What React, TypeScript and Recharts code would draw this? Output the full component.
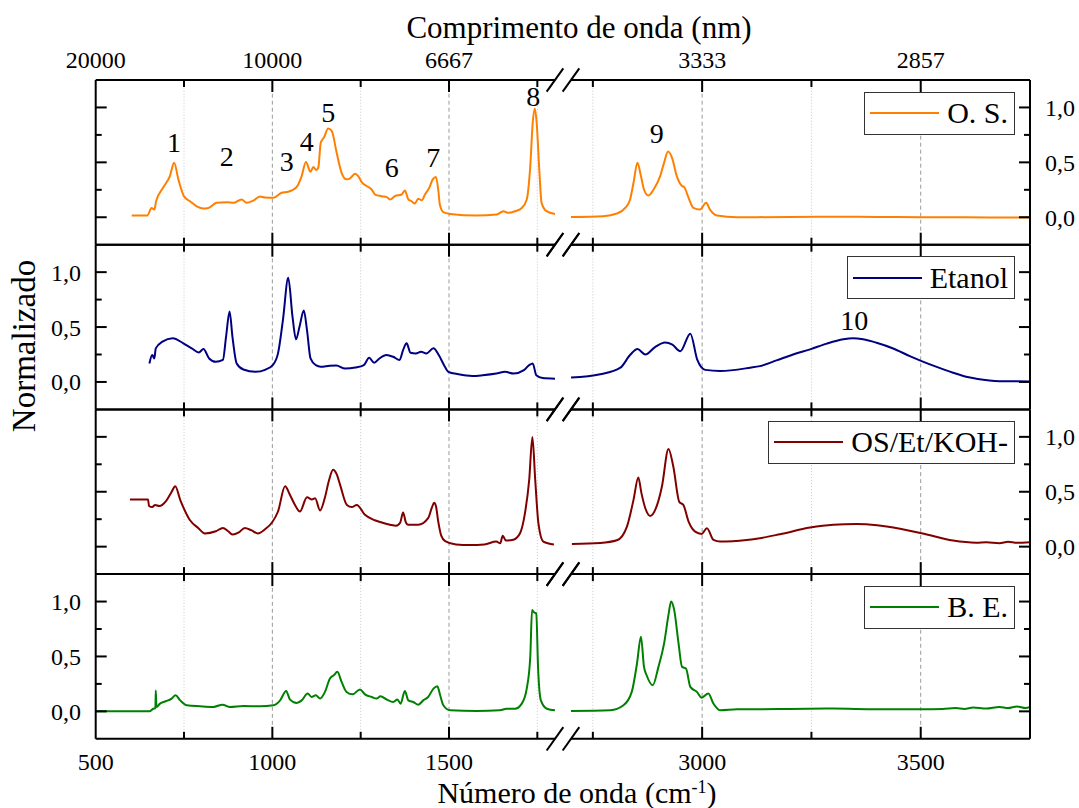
import React from 'react';
import { LineChart, Line, XAxis, YAxis, ReferenceLine, ReferenceDot, Legend } from 'recharts';

// ---------------- data (wavenumber cm-1 / normalized intensity) ----------------
const OS_LEFT_WN = [602, 646, 658, 666, 671, 691, 710, 722, 734, 750, 767, 786, 805, 819, 842, 871, 890, 913, 927, 946, 965, 979, 1003, 1026, 1045, 1069, 1083, 1095, 1108, 1116, 1124, 1130, 1137, 1146, 1158, 1168, 1182, 1196, 1210, 1220, 1234, 1243, 1253, 1267, 1281, 1291, 1309, 1324, 1333, 1347, 1366, 1375, 1385, 1394, 1403, 1413, 1423, 1432, 1444, 1454, 1463, 1470, 1474, 1484, 1503, 1578, 1635, 1654, 1668, 1687, 1706, 1720, 1730, 1737, 1743, 1748, 1756, 1762, 1776, 1800];
const OS_LEFT_VAL = [0.015, 0.015, 0.085, 0.07, 0.146, 0.27, 0.375, 0.497, 0.345, 0.19, 0.146, 0.1, 0.08, 0.085, 0.131, 0.137, 0.131, 0.162, 0.131, 0.152, 0.19, 0.18, 0.177, 0.223, 0.232, 0.277, 0.375, 0.503, 0.415, 0.457, 0.43, 0.451, 0.68, 0.726, 0.808, 0.787, 0.588, 0.405, 0.345, 0.354, 0.396, 0.375, 0.32, 0.284, 0.253, 0.207, 0.192, 0.183, 0.162, 0.192, 0.207, 0.244, 0.162, 0.146, 0.125, 0.168, 0.155, 0.207, 0.268, 0.345, 0.366, 0.238, 0.116, 0.046, 0.03, 0.015, 0.024, 0.055, 0.04, 0.055, 0.085, 0.162, 0.466, 0.863, 0.99, 0.863, 0.405, 0.131, 0.055, 0.03];
const OS_RIGHT_WN = [2700, 2774, 2805, 2824, 2835, 2843, 2852, 2860, 2867, 2877, 2889, 2904, 2913, 2922, 2931, 2942, 2954, 2959, 2969, 2980, 2995, 3009, 3018, 3034, 3079, 3200, 3300, 3400, 3500, 3600, 3700, 3750];
const OS_RIGHT_VAL = [0.003, 0.01, 0.034, 0.085, 0.16, 0.314, 0.497, 0.375, 0.253, 0.198, 0.253, 0.375, 0.497, 0.598, 0.543, 0.375, 0.284, 0.274, 0.177, 0.085, 0.07, 0.131, 0.07, 0.015, 0.0, 0.003, 0.005, 0.003, 0.0, 0.0, -0.003, -0.003];

const ET_LEFT_WN = [652, 660, 666, 670, 689, 718, 748, 772, 792, 805, 821, 840, 860, 869, 879, 887, 899, 918, 952, 981, 1001, 1016, 1030, 1045, 1057, 1067, 1077, 1089, 1098, 1108, 1123, 1137, 1162, 1181, 1206, 1235, 1259, 1274, 1288, 1303, 1323, 1342, 1360, 1370, 1380, 1391, 1406, 1421, 1436, 1456, 1471, 1486, 1498, 1527, 1566, 1595, 1634, 1659, 1683, 1712, 1727, 1737, 1747, 1765, 1800];
const ET_LEFT_VAL = [0.168, 0.245, 0.214, 0.306, 0.367, 0.398, 0.352, 0.306, 0.269, 0.3, 0.214, 0.183, 0.2, 0.413, 0.642, 0.413, 0.168, 0.113, 0.092, 0.113, 0.153, 0.26, 0.566, 0.948, 0.596, 0.388, 0.505, 0.651, 0.474, 0.214, 0.153, 0.138, 0.147, 0.15, 0.122, 0.131, 0.153, 0.22, 0.174, 0.214, 0.245, 0.229, 0.2, 0.29, 0.352, 0.266, 0.26, 0.275, 0.26, 0.306, 0.245, 0.153, 0.092, 0.07, 0.055, 0.061, 0.076, 0.092, 0.076, 0.107, 0.153, 0.168, 0.061, 0.035, 0.03];
const ET_RIGHT_WN = [2700, 2767, 2813, 2836, 2852, 2870, 2893, 2915, 2932, 2950, 2973, 2989, 3007, 3041, 3110, 3132, 3170, 3208, 3247, 3285, 3323, 3345, 3368, 3399, 3437, 3475, 3502, 3538, 3574, 3604, 3627, 3680, 3750];
const ET_RIGHT_VAL = [0.04, 0.07, 0.13, 0.25, 0.3, 0.25, 0.32, 0.36, 0.34, 0.28, 0.44, 0.2, 0.11, 0.1, 0.13, 0.144, 0.196, 0.25, 0.297, 0.349, 0.388, 0.397, 0.388, 0.357, 0.305, 0.235, 0.19, 0.135, 0.084, 0.047, 0.03, 0.007, 0.005];

const KOH_LEFT_WN = [597, 648, 651, 660, 668, 680, 700, 715, 725, 740, 767, 790, 809, 840, 860, 875, 888, 905, 922, 940, 959, 980, 999, 1016, 1036, 1050, 1064, 1078, 1098, 1112, 1121, 1135, 1149, 1160, 1172, 1182, 1192, 1211, 1225, 1239, 1262, 1290, 1310, 1333, 1350, 1362, 1370, 1378, 1384, 1413, 1441, 1452, 1458, 1463, 1469, 1478, 1489, 1520, 1559, 1600, 1634, 1645, 1652, 1661, 1682, 1701, 1715, 1727, 1736, 1744, 1753, 1767, 1797];
const KOH_LEFT_VAL = [0.43, 0.43, 0.37, 0.36, 0.38, 0.37, 0.42, 0.5, 0.55, 0.42, 0.24, 0.17, 0.12, 0.14, 0.17, 0.14, 0.11, 0.13, 0.17, 0.15, 0.12, 0.16, 0.22, 0.32, 0.55, 0.47, 0.38, 0.32, 0.45, 0.43, 0.44, 0.33, 0.45, 0.6, 0.7, 0.66, 0.56, 0.38, 0.36, 0.38, 0.29, 0.24, 0.22, 0.2, 0.19, 0.22, 0.31, 0.22, 0.2, 0.2, 0.26, 0.36, 0.4, 0.37, 0.24, 0.1, 0.05, 0.02, 0.015, 0.02, 0.046, 0.03, 0.1, 0.055, 0.063, 0.122, 0.305, 0.609, 0.999, 0.609, 0.214, 0.046, 0.02];
const KOH_RIGHT_WN = [2702, 2767, 2805, 2828, 2843, 2854, 2861, 2870, 2881, 2897, 2908, 2923, 2934, 2948, 2957, 2969, 2984, 2999, 3011, 3026, 3041, 3102, 3132, 3178, 3247, 3300, 3353, 3400, 3422, 3502, 3574, 3627, 3650, 3680, 3700, 3720, 3750];
const KOH_RIGHT_VAL = [0.025, 0.034, 0.058, 0.183, 0.426, 0.63, 0.49, 0.35, 0.28, 0.38, 0.548, 0.889, 0.73, 0.405, 0.38, 0.228, 0.137, 0.116, 0.168, 0.061, 0.046, 0.061, 0.077, 0.113, 0.174, 0.2, 0.207, 0.195, 0.183, 0.122, 0.055, 0.036, 0.04, 0.032, 0.045, 0.035, 0.04];

const BE_LEFT_WN = [500, 652, 663, 669, 670, 672, 682, 701, 715, 726, 739, 758, 795, 833, 859, 880, 918, 965, 1003, 1022, 1039, 1050, 1069, 1083, 1100, 1111, 1123, 1135, 1149, 1163, 1174, 1184, 1196, 1210, 1227, 1248, 1262, 1281, 1295, 1306, 1324, 1342, 1354, 1363, 1375, 1385, 1399, 1413, 1427, 1441, 1456, 1467, 1475, 1484, 1503, 1578, 1644, 1663, 1687, 1706, 1720, 1730, 1735, 1741, 1747, 1752, 1760, 1777, 1800];
const BE_LEFT_VAL = [0, 0, 0.024, 0.03, 0.19, 0.04, 0.07, 0.095, 0.116, 0.146, 0.1, 0.055, 0.046, 0.04, 0.061, 0.04, 0.049, 0.046, 0.055, 0.1, 0.186, 0.107, 0.076, 0.1, 0.162, 0.131, 0.146, 0.116, 0.177, 0.299, 0.329, 0.36, 0.268, 0.177, 0.155, 0.2, 0.155, 0.131, 0.116, 0.137, 0.107, 0.085, 0.107, 0.07, 0.186, 0.1, 0.085, 0.061, 0.1, 0.131, 0.207, 0.229, 0.146, 0.055, 0.009, 0.003, 0.009, 0.024, 0.024, 0.07, 0.207, 0.497, 0.924, 0.9, 0.893, 0.405, 0.1, 0.024, 0.009];
const BE_RIGHT_WN = [2700, 2790, 2820, 2839, 2851, 2860, 2867, 2873, 2887, 2900, 2913, 2923, 2929, 2936, 2946, 2954, 2963, 2973, 2988, 2999, 3014, 3026, 3041, 3079, 3200, 3300, 3400, 3500, 3550, 3580, 3600, 3620, 3650, 3680, 3700, 3720, 3740, 3750];
const BE_RIGHT_VAL = [0.003, 0.01, 0.055, 0.177, 0.436, 0.68, 0.405, 0.329, 0.238, 0.405, 0.619, 0.878, 1.0, 0.924, 0.619, 0.405, 0.39, 0.223, 0.177, 0.125, 0.162, 0.07, 0.009, 0.018, 0.022, 0.025, 0.02, 0.02, 0.022, 0.03, 0.022, 0.035, 0.025, 0.04, 0.03, 0.045, 0.03, 0.04];

const SERIES_NAMES = ['O. S.', 'Etanol', 'OS/Et/KOH-', 'B. E.'];
const SERIES_COLORS = ['#FF8000', '#000080', '#800000', '#008000'];

// peak annotations
const OS_PEAK_LABELS = ['1', '2', '3', '4', '5', '6', '7', '8'];
const OS_PEAK_WN = [721.6, 870.8, 1040.6, 1097.2, 1158.4, 1337.8, 1455.6, 1738.6];
const OS_PEAK_Y = [0.597, 0.469, 0.424, 0.603, 0.87, 0.369, 0.46, 1.013];
const OS_R_PEAK_LABELS = ['9'];
const OS_R_PEAK_WN = [2896];
const OS_R_PEAK_Y = [0.679];
const ET_R_PEAK_LABELS = ['10'];
const ET_R_PEAK_WN = [3348];
const ET_R_PEAK_Y = [0.473];

// axes
const LEFT_DOMAIN = [500, 1800];
const RIGHT_DOMAIN = [2700, 3750];
const Y_DOMAIN = [-0.25, 1.25];
const LEFT_TICKS = [500, 750, 1000, 1250, 1500, 1750];
const RIGHT_TICKS = [2750, 3000, 3250, 3500];
const MAJOR_X = [500, 1000, 1500, 3000, 3500];
const MINOR_X_LEFT = [750, 1250, 1750];
const MAJOR_X_LEFT = [1000, 1500];
const MINOR_X_RIGHT = [2750, 3250];
const MAJOR_X_RIGHT = [3000, 3500];
const Y_TICKS = [0, 0.25, 0.5, 0.75, 1];
const MAJOR_Y = [0, 0.5, 1];

// ---------------- layout ----------------
const W = 1079;
const H = 808;
const PLOT_L = 95.7;
const PLOT_R = 1030;
const BREAK_L = 555;
const BREAK_R = 571;
const PANEL_TOP = 80;
const PANEL_H = 164.7;
const FONT = '"Liberation Serif", "Times New Roman", Times, serif';

const zip = (xs: number[], ys: number[]) => xs.map((x, i) => ({ x, y: ys[i] }));

const PANELS = [
  { left: zip(OS_LEFT_WN, OS_LEFT_VAL), right: zip(OS_RIGHT_WN, OS_RIGHT_VAL) },
  { left: zip(ET_LEFT_WN, ET_LEFT_VAL), right: zip(ET_RIGHT_WN, ET_RIGHT_VAL) },
  { left: zip(KOH_LEFT_WN, KOH_LEFT_VAL), right: zip(KOH_RIGHT_WN, KOH_RIGHT_VAL) },
  { left: zip(BE_LEFT_WN, BE_LEFT_VAL), right: zip(BE_RIGHT_WN, BE_RIGHT_VAL) },
];

const ANNOTS: { axis: string; labels: string[]; xs: number[]; ys: number[] }[][] = [
  [
    { axis: 'L', labels: OS_PEAK_LABELS, xs: OS_PEAK_WN, ys: OS_PEAK_Y },
    { axis: 'R', labels: OS_R_PEAK_LABELS, xs: OS_R_PEAK_WN, ys: OS_R_PEAK_Y },
  ],
  [{ axis: 'R', labels: ET_R_PEAK_LABELS, xs: ET_R_PEAK_WN, ys: ET_R_PEAK_Y }],
  [],
  [],
];

const fmtY = (v: number) => v.toFixed(1).replace('.', ',');

function Panel({ idx }: { idx: number }) {
  const top = PANEL_TOP + idx * PANEL_H;
  const bottom = top + PANEL_H;
  const color = SERIES_COLORS[idx];
  const name = SERIES_NAMES[idx];
  const data = PANELS[idx];
  const labelRight = idx % 2 === 0;

  const xTick = (props: any) => {
    const { payload } = props;
    const v = payload.value;
    const x = payload.coordinate ?? props.x;
    const major = MAJOR_X.includes(v);
    const len = major ? 12 : 7;
    const edge = v === 500;
    return (
      <g>
        {!edge && <line x1={x} x2={x} y1={top} y2={top + len} stroke="#000" strokeWidth={2} />}
        {!edge && <line x1={x} x2={x} y1={bottom} y2={bottom - len} stroke="#000" strokeWidth={2} />}
        {idx === 0 && major && (
          <text x={x} y={top - 12} textAnchor="middle" fontFamily={FONT} fontSize={24} fill="#000">
            {Math.round(1e7 / v)}
          </text>
        )}
        {idx === 3 && major && (
          <text x={x} y={bottom + 31} textAnchor="middle" fontFamily={FONT} fontSize={24} fill="#000">
            {v}
          </text>
        )}
      </g>
    );
  };

  const yTick = (props: any) => {
    const { payload } = props;
    const v = payload.value;
    const y = payload.coordinate ?? props.y;
    const major = MAJOR_Y.includes(v);
    const len = major ? 11 : 6;
    return (
      <g>
        <line x1={PLOT_L} x2={PLOT_L + len} y1={y} y2={y} stroke="#000" strokeWidth={2} />
        <line x1={PLOT_R} x2={PLOT_R - len} y1={y} y2={y} stroke="#000" strokeWidth={2} />
        {major && !labelRight && (
          <text x={81} y={y + 8.5} textAnchor="end" fontFamily={FONT} fontSize={24} fill="#000">
            {fmtY(v)}
          </text>
        )}
        {major && labelRight && (
          <text x={1045} y={y + 8.5} textAnchor="start" fontFamily={FONT} fontSize={24} fill="#000">
            {fmtY(v)}
          </text>
        )}
      </g>
    );
  };

  const slash = (props: any) => (
    <line x1={props.cx - 8.3} y1={props.cy + 11.7} x2={props.cx + 8.3} y2={props.cy - 11.7} stroke="#000" strokeWidth={2} />
  );

  const legendContent = (props: any) => {
    const items = (props && props.payload) || [];
    const item = items.find((p: any) => p.type !== 'none') || items[0] || { value: name, color };
    return (
      <div
        style={{
          display: 'inline-flex',
          alignItems: 'center',
          height: 43,
          boxSizing: 'border-box',
          border: '1px solid #333',
          background: '#fff',
          padding: '0 6px 0 5px',
          fontFamily: FONT,
          fontSize: 30,
          lineHeight: '30px',
          color: '#000',
          whiteSpace: 'nowrap',
        }}
      >
        <svg width={69} height={4} style={{ marginRight: 8, display: 'block' }}>
          <line x1={0} x2={69} y1={2} y2={2} stroke={item.color || color} strokeWidth={2} />
        </svg>
        <span>{item.value || name}</span>
      </div>
    );
  };

  return (
    <div style={{ position: 'absolute', left: 0, top: 0 }}>
      <LineChart
        width={W}
        height={H}
        margin={{ top, right: W - PLOT_R, bottom: H - bottom - 2, left: PLOT_L - 1 }}
      >
        <XAxis
          xAxisId="L"
          type="number"
          dataKey="x"
          domain={LEFT_DOMAIN}
          ticks={LEFT_TICKS}
          interval={0}
          allowDataOverflow
          height={1}
          padding={{ left: 0, right: PLOT_R - BREAK_L }}
          axisLine={false}
          tickLine={false}
          tick={xTick}
        />
        <XAxis
          xAxisId="R"
          type="number"
          dataKey="x"
          domain={RIGHT_DOMAIN}
          ticks={RIGHT_TICKS}
          interval={0}
          allowDataOverflow
          height={1}
          padding={{ left: BREAK_R - PLOT_L, right: 0 }}
          axisLine={false}
          tickLine={false}
          tick={xTick}
        />
        <YAxis
          type="number"
          domain={Y_DOMAIN}
          ticks={Y_TICKS}
          interval={0}
          allowDataOverflow
          width={1}
          axisLine={false}
          tickLine={false}
          tick={yTick}
        />

        {MINOR_X_LEFT.map((v) => (
          <ReferenceLine key={'ml' + v} xAxisId="L" x={v} stroke="#c8c8c8" strokeWidth={1} strokeDasharray="1 2" ifOverflow="visible" />
        ))}
        {MAJOR_X_LEFT.map((v) => (
          <ReferenceLine key={'Ml' + v} xAxisId="L" x={v} stroke="#9a9a9a" strokeWidth={1} strokeDasharray="4 3" ifOverflow="visible" />
        ))}
        {MINOR_X_RIGHT.map((v) => (
          <ReferenceLine key={'mr' + v} xAxisId="R" x={v} stroke="#c8c8c8" strokeWidth={1} strokeDasharray="1 2" ifOverflow="visible" />
        ))}
        {MAJOR_X_RIGHT.map((v) => (
          <ReferenceLine key={'Mr' + v} xAxisId="R" x={v} stroke="#9a9a9a" strokeWidth={1} strokeDasharray="4 3" ifOverflow="visible" />
        ))}

        <Line
          xAxisId="L"
          data={data.left}
          dataKey="y"
          name={name}
          type="monotone"
          stroke={color}
          strokeWidth={2}
          dot={false}
          activeDot={false}
          isAnimationActive={false}
        />
        <Line
          xAxisId="R"
          data={data.right}
          dataKey="y"
          name={name + ' '}
          legendType="none"
          type="monotone"
          stroke={color}
          strokeWidth={2}
          dot={false}
          activeDot={false}
          isAnimationActive={false}
        />

        {/* frame */}
        <ReferenceLine xAxisId="L" x={LEFT_DOMAIN[0]} stroke="#000" strokeWidth={2} ifOverflow="visible" />
        <ReferenceLine xAxisId="R" x={RIGHT_DOMAIN[1]} stroke="#000" strokeWidth={2} ifOverflow="visible" />
        <ReferenceLine
          xAxisId="L"
          segment={[{ x: LEFT_DOMAIN[0], y: Y_DOMAIN[1] }, { x: LEFT_DOMAIN[1], y: Y_DOMAIN[1] }]}
          stroke="#000"
          strokeWidth={2}
          ifOverflow="visible"
        />
        <ReferenceLine
          xAxisId="L"
          segment={[{ x: LEFT_DOMAIN[0], y: Y_DOMAIN[0] }, { x: LEFT_DOMAIN[1], y: Y_DOMAIN[0] }]}
          stroke="#000"
          strokeWidth={2}
          ifOverflow="visible"
        />
        <ReferenceLine
          xAxisId="R"
          segment={[{ x: RIGHT_DOMAIN[0], y: Y_DOMAIN[1] }, { x: RIGHT_DOMAIN[1], y: Y_DOMAIN[1] }]}
          stroke="#000"
          strokeWidth={2}
          ifOverflow="visible"
        />
        <ReferenceLine
          xAxisId="R"
          segment={[{ x: RIGHT_DOMAIN[0], y: Y_DOMAIN[0] }, { x: RIGHT_DOMAIN[1], y: Y_DOMAIN[0] }]}
          stroke="#000"
          strokeWidth={2}
          ifOverflow="visible"
        />

        {/* axis break marks */}
        <ReferenceDot xAxisId="L" x={LEFT_DOMAIN[1]} y={Y_DOMAIN[1]} r={0} ifOverflow="visible" shape={slash} />
        <ReferenceDot xAxisId="L" x={LEFT_DOMAIN[1]} y={Y_DOMAIN[0]} r={0} ifOverflow="visible" shape={slash} />
        <ReferenceDot xAxisId="R" x={RIGHT_DOMAIN[0]} y={Y_DOMAIN[1]} r={0} ifOverflow="visible" shape={slash} />
        <ReferenceDot xAxisId="R" x={RIGHT_DOMAIN[0]} y={Y_DOMAIN[0]} r={0} ifOverflow="visible" shape={slash} />

        {/* peak numbers */}
        {ANNOTS[idx].flatMap((g) =>
          g.labels.map((lab, i) => (
            <ReferenceDot
              key={g.axis + lab}
              xAxisId={g.axis}
              x={g.xs[i]}
              y={g.ys[i]}
              r={0}
              ifOverflow="visible"
              shape={(p: any) => (
                <text x={p.cx} y={p.cy} textAnchor="middle" fontFamily={FONT} fontSize={28} fill="#000">
                  {lab}
                </text>
              )}
            />
          ))
        )}

        <Legend
          layout="vertical"
          align="center"
          verticalAlign="middle"
          content={legendContent}
          wrapperStyle={{
            position: 'absolute',
            top: top + 11.5,
            right: W - 1015,
            left: 'auto',
            bottom: 'auto',
            width: 'auto',
            height: 'auto',
            margin: 0,
          }}
        />
      </LineChart>
    </div>
  );
}

export default function App() {
  return (
    <div style={{ position: 'absolute', left: 0, top: 0, width: W, height: H, background: '#fff', overflow: 'hidden' }}>
      {[0, 1, 2, 3].map((i) => (
        <Panel key={i} idx={i} />
      ))}
      <svg width={W} height={H} style={{ position: 'absolute', left: 0, top: 0, pointerEvents: 'none' }}>
        <text x={579} y={38} textAnchor="middle" fontFamily={FONT} fontSize={31} fill="#000">
          Comprimento de onda (nm)
        </text>
        <text x={577} y={802.5} textAnchor="middle" fontFamily={FONT} fontSize={30} fill="#000">
          Número de onda (cm
          <tspan dy={-10} fontSize={18}>-1</tspan>
          <tspan dy={10}>)</tspan>
        </text>
        <text
          transform="translate(35,346) rotate(-90)"
          textAnchor="middle"
          fontFamily={FONT}
          fontSize={33}
          fill="#000"
        >
          Normalizado
        </text>
      </svg>
    </div>
  );
}
